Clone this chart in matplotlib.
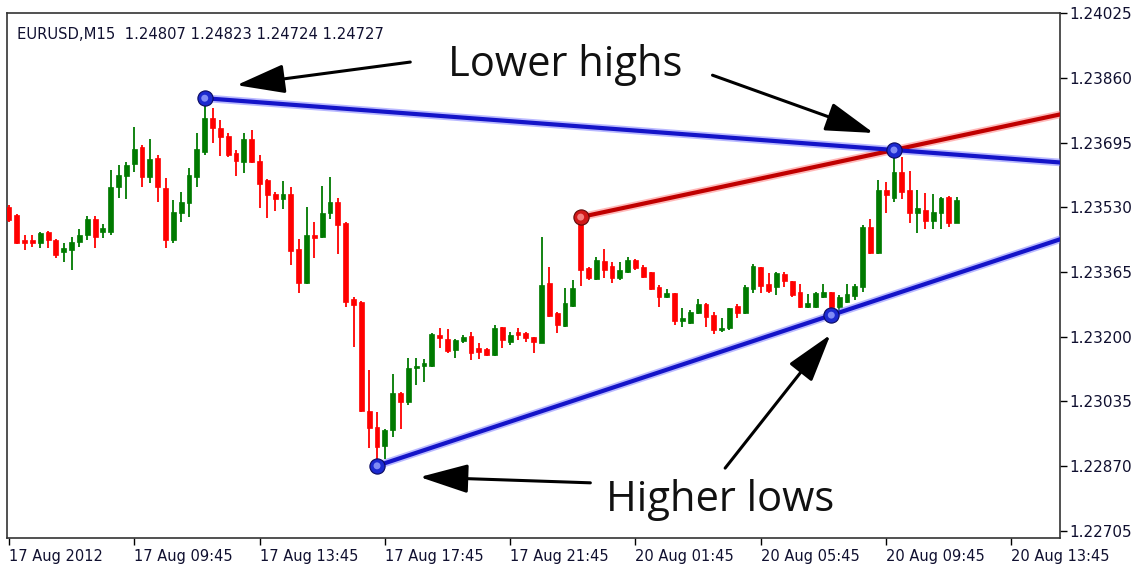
import matplotlib.pyplot as plt

# EURUSD M15 candles (open, high, low, close)
opens = [1.23531, 1.23510, 1.23447, 1.23447, 1.23439, 1.23467, 1.23447, 1.23416, 1.23421, 1.23441,
         1.23459, 1.23500, 1.23467, 1.23467, 1.23582, 1.23610, 1.23640, 1.23683, 1.23607, 1.23655,
         1.23579, 1.23447, 1.23515, 1.23541, 1.23607, 1.23671, 1.23757, 1.23732, 1.23711, 1.23668,
         1.23645, 1.23704, 1.23648, 1.23599, 1.23564, 1.23551, 1.23564, 1.23423, 1.23337, 1.23459,
         1.23454, 1.23515, 1.23543, 1.23490, 1.23296, 1.23289, 1.23011, 1.22970, 1.22922, 1.22962,
         1.23057, 1.23034, 1.23120, 1.23125, 1.23125, 1.23204, 1.23194, 1.23166, 1.23189, 1.23202,
         1.23171, 1.23169, 1.23154, 1.23225, 1.23187, 1.23212, 1.23210, 1.23199, 1.23184, 1.23337,
         1.23261, 1.23227, 1.23278, 1.23490, 1.23375, 1.23347, 1.23393, 1.23380, 1.23350, 1.23365,
         1.23396, 1.23378, 1.23365, 1.23327, 1.23301, 1.23311, 1.23240, 1.23235, 1.23261, 1.23283,
         1.23255, 1.23217, 1.23222, 1.23278, 1.23261, 1.23322, 1.23378, 1.23334, 1.23327, 1.23360,
         1.23342, 1.23314, 1.23276, 1.23276, 1.23301, 1.23314, 1.23276, 1.23289, 1.23304, 1.23327,
         1.23480, 1.23413, 1.23574, 1.23554, 1.23620, 1.23574, 1.23515, 1.23523, 1.23495, 1.23515,
         1.23556, 1.23490]
highs = [1.23536, 1.23513, 1.23459, 1.23459, 1.23467, 1.23469, 1.23449, 1.23439, 1.23454, 1.23475,
         1.23508, 1.23508, 1.23487, 1.23625, 1.23638, 1.23645, 1.23734, 1.23689, 1.23704, 1.23663,
         1.23605, 1.23548, 1.23569, 1.23630, 1.23719, 1.23808, 1.23783, 1.23752, 1.23719, 1.23676,
         1.23719, 1.23727, 1.23663, 1.23602, 1.23569, 1.23597, 1.23582, 1.23449, 1.23531, 1.23492,
         1.23584, 1.23607, 1.23554, 1.23492, 1.23301, 1.23291, 1.23115, 1.23008, 1.22964, 1.23105,
         1.23059, 1.23146, 1.23146, 1.23143, 1.23210, 1.23222, 1.23220, 1.23193, 1.23204, 1.23212,
         1.23184, 1.23170, 1.23230, 1.23226, 1.23212, 1.23222, 1.23212, 1.23200, 1.23454, 1.23378,
         1.23262, 1.23324, 1.23345, 1.23505, 1.23378, 1.23403, 1.23424, 1.23390, 1.23390, 1.23403,
         1.23398, 1.23383, 1.23366, 1.23332, 1.23322, 1.23312, 1.23273, 1.23268, 1.23296, 1.23286,
         1.23263, 1.23248, 1.23274, 1.23283, 1.23332, 1.23385, 1.23379, 1.23362, 1.23365, 1.23365,
         1.23343, 1.23334, 1.23309, 1.23314, 1.23334, 1.23315, 1.23306, 1.23334, 1.23334, 1.23485,
         1.23500, 1.23599, 1.23594, 1.23676, 1.23658, 1.23622, 1.23574, 1.23566, 1.23564, 1.23555,
         1.23559, 1.23556]
lows = [1.23492, 1.23436, 1.23421, 1.23429, 1.23426, 1.23426, 1.23401, 1.23390, 1.23370, 1.23429,
        1.23447, 1.23426, 1.23452, 1.23459, 1.23554, 1.23551, 1.23620, 1.23582, 1.23592, 1.23543,
        1.23426, 1.23439, 1.23492, 1.23505, 1.23582, 1.23663, 1.23694, 1.23660, 1.23658, 1.23610,
        1.23617, 1.23643, 1.23528, 1.23503, 1.23520, 1.23525, 1.23383, 1.23311, 1.23335, 1.23401,
        1.23452, 1.23500, 1.23411, 1.23276, 1.23174, 1.23009, 1.22917, 1.22871, 1.22889, 1.22945,
        1.22965, 1.23026, 1.23077, 1.23085, 1.23124, 1.23171, 1.23159, 1.23146, 1.23184, 1.23141,
        1.23143, 1.23151, 1.23151, 1.23171, 1.23179, 1.23192, 1.23187, 1.23159, 1.23183, 1.23250,
        1.23210, 1.23225, 1.23276, 1.23329, 1.23345, 1.23345, 1.23350, 1.23337, 1.23345, 1.23362,
        1.23370, 1.23350, 1.23319, 1.23276, 1.23299, 1.23230, 1.23225, 1.23232, 1.23258, 1.23225,
        1.23207, 1.23212, 1.23217, 1.23248, 1.23258, 1.23311, 1.23311, 1.23311, 1.23306, 1.23327,
        1.23301, 1.23274, 1.23274, 1.23274, 1.23299, 1.23255, 1.23261, 1.23286, 1.23294, 1.23314,
        1.23412, 1.23411, 1.23515, 1.23543, 1.23551, 1.23490, 1.23464, 1.23475, 1.23475, 1.23475,
        1.23480, 1.23489]
closes = [1.23497, 1.23439, 1.23439, 1.23439, 1.23464, 1.23447, 1.23408, 1.23426, 1.23441, 1.23459,
          1.23500, 1.23454, 1.23477, 1.23582, 1.23612, 1.23638, 1.23678, 1.23607, 1.23653, 1.23582,
          1.23447, 1.23518, 1.23543, 1.23612, 1.23678, 1.23757, 1.23732, 1.23709, 1.23663, 1.23648,
          1.23704, 1.23645, 1.23589, 1.23561, 1.23551, 1.23564, 1.23418, 1.23337, 1.23459, 1.23452,
          1.23515, 1.23543, 1.23485, 1.23289, 1.23281, 1.23011, 1.22968, 1.22919, 1.22962, 1.23057,
          1.23034, 1.23120, 1.23125, 1.23133, 1.23207, 1.23197, 1.23164, 1.23192, 1.23199, 1.23159,
          1.23161, 1.23154, 1.23222, 1.23192, 1.23204, 1.23204, 1.23197, 1.23187, 1.23332, 1.23253,
          1.23230, 1.23286, 1.23324, 1.23370, 1.23350, 1.23396, 1.23370, 1.23350, 1.23370, 1.23396,
          1.23375, 1.23352, 1.23322, 1.23301, 1.23311, 1.23240, 1.23248, 1.23263, 1.23283, 1.23250,
          1.23217, 1.23222, 1.23273, 1.23261, 1.23327, 1.23380, 1.23329, 1.23317, 1.23362, 1.23342,
          1.23306, 1.23276, 1.23286, 1.23311, 1.23314, 1.23276, 1.23301, 1.23309, 1.23329, 1.23480,
          1.23413, 1.23574, 1.23561, 1.23620, 1.23569, 1.23515, 1.23528, 1.23495, 1.23518, 1.23554,
          1.23490, 1.23548]

price_ticks = [1.22705, 1.22870, 1.23035, 1.23200, 1.23365, 1.23530, 1.23695, 1.23860, 1.24025]
time_labels = ["17 Aug 2012", "17 Aug 09:45", "17 Aug 13:45", "17 Aug 17:45", "17 Aug 21:45",
               "20 Aug 01:45", "20 Aug 05:45", "20 Aug 09:45", "20 Aug 13:45"]
bars_per_label = 16

# trendline anchor bars: (first, second)
upper_pts = (25, 113)   # lower highs
red_pts = (73, 113)
lower_pts = (47, 105)   # higher lows

fig = plt.figure(figsize=(11.42, 5.66), dpi=100)
ax = fig.add_axes([0.0061, 0.0495, 0.9221, 0.9281])

x_right = 134.2
ax.set_xlim(-0.25, x_right)
ax.set_ylim(1.22687, 1.24026)

# candles
for i in range(len(opens)):
    o, h, l, c = opens[i], highs[i], lows[i], closes[i]
    col = '#007a00' if c >= o else '#ff0000'
    ax.vlines(i, l, h, color=col, lw=1.3, zorder=2)
    ax.bar(i, max(abs(c - o), 0.000012), bottom=min(o, c), width=0.62, color=col,
           edgecolor=col, lw=0.5, zorder=3)


def ray(p1, p2, series, color, glow):
    x1, x2 = p1, p2
    y1, y2 = series[x1], series[x2]
    slope = (y2 - y1) / (x2 - x1)
    xe = x_right + 2
    ye = y1 + slope * (xe - x1)
    ax.plot([x1, xe], [y1, ye], color=glow, lw=5.5, alpha=0.55, solid_capstyle='round', zorder=4)
    ax.plot([x1, xe], [y1, ye], color=color, lw=3.0, solid_capstyle='round', zorder=5)


ray(*red_pts, highs, '#c00000', '#ff8080')
ray(*upper_pts, highs, '#1414c8', '#8080ff')
ray(*lower_pts, lows, '#1414c8', '#8080ff')

# anchor spheres
blue_x = [upper_pts[0], upper_pts[1], lower_pts[0], lower_pts[1]]
blue_y = [highs[upper_pts[0]], highs[upper_pts[1]], lows[lower_pts[0]], lows[lower_pts[1]]]
ax.scatter(blue_x, blue_y, s=120, color='#1c2ad0', edgecolor='#0a0a60', lw=0.8, zorder=6)
ax.scatter([red_pts[0]], [highs[red_pts[0]]], s=120, color='#d01818', edgecolor='#600a0a',
           lw=0.8, zorder=6)
ax.scatter(blue_x, blue_y, s=25, color='#9aa4ff', edgecolor='none', zorder=7, alpha=0.8)
ax.scatter([red_pts[0]], [highs[red_pts[0]]], s=25, color='#ff9a9a', edgecolor='none',
           zorder=7, alpha=0.8)

# annotations
arrow = dict(arrowstyle='-|>,head_length=1.5,head_width=0.45', color='black', lw=2.2,
             mutation_scale=20, shrinkA=0, shrinkB=0)
ax.text(0.530, 0.900, "Lower highs", transform=ax.transAxes, ha='center', va='center',
        fontsize=30, family='Open Sans', color='#111111', zorder=8)
ax.text(0.677, 0.072, "Higher lows", transform=ax.transAxes, ha='center', va='center',
        fontsize=30, family='Open Sans', color='#111111', zorder=8)
for tail, head in [((0.383, 0.906), (0.218, 0.862)),
                   ((0.670, 0.881), (0.823, 0.771)),
                   ((0.554, 0.105), (0.392, 0.116)),
                   ((0.682, 0.133), (0.782, 0.387))]:
    ax.annotate("", xy=head, xytext=tail, xycoords='axes fraction',
                textcoords='axes fraction', arrowprops=arrow, zorder=8)

ax.text(0.0095, 0.972, "EURUSD,M15  1.24807 1.24823 1.24724 1.24727", transform=ax.transAxes,
        ha='left', va='top', fontsize=10.6, color='#101030')

# axes styling
ax.yaxis.tick_right()
ax.set_yticks(price_ticks)
ax.set_yticklabels(["%.5f" % v for v in price_ticks])
ax.set_xticks([k * bars_per_label for k in range(len(time_labels))])
ax.set_xticklabels(time_labels, ha='left')
ax.tick_params(axis='both', direction='out', length=5, width=1, labelsize=10.5,
               labelcolor='#101030', pad=2)
ax.tick_params(axis='y', labelsize=11)
ax.tick_params(axis='x', pad=3)
for s in ax.spines.values():
    s.set_color('#333333')
    s.set_linewidth(1.2)

plt.savefig('out.png', dpi=100)
